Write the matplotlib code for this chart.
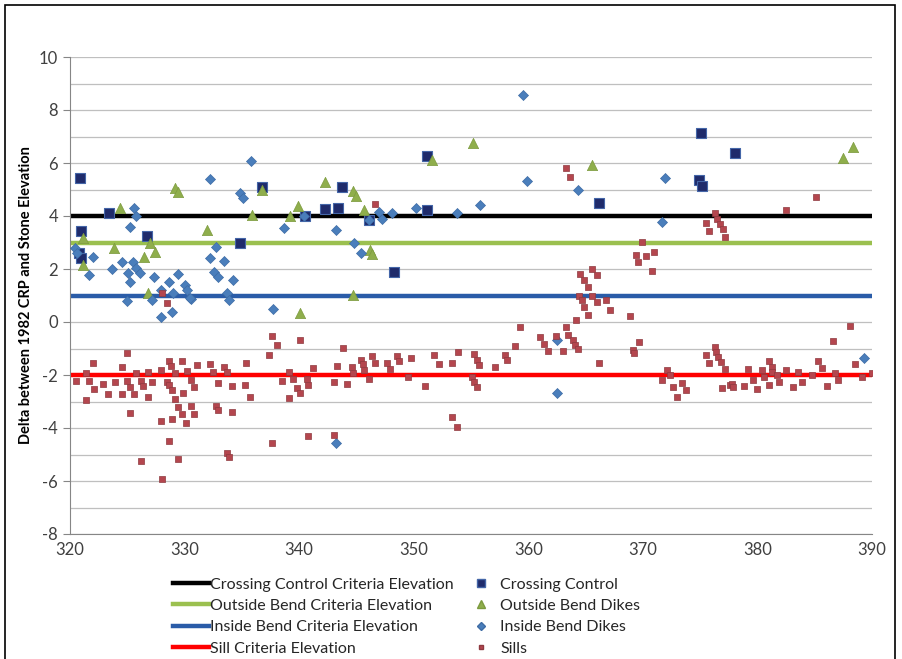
import matplotlib.pyplot as plt
from matplotlib.patches import Rectangle
from matplotlib.lines import Line2D
from matplotlib.ticker import MultipleLocator

plt.rcParams['font.family'] = ['Lato', 'DejaVu Sans']
plt.rcParams['axes.unicode_minus'] = False

# criteria elevations (horizontal lines)
crit_names = ['Crossing Control Criteria Elevation', 'Outside Bend Criteria Elevation',
              'Inside Bend Criteria Elevation', 'Sill Criteria Elevation']
crit_values = [4, 3, 1, -2]
crit_colors = ['#000000', '#9BC04F', '#2A5CA8', '#FF0000']
x_range = [320, 390]

# Crossing Control
cc_x = [320.9, 321.0, 320.8, 321.0, 323.4, 326.7, 334.8, 336.8, 340.5, 342.3, 343.4,
        343.7, 346.1, 348.3, 351.2, 351.2, 366.2, 375.1, 374.9, 375.2, 378.0]
cc_y = [5.43, 3.45, 2.6, 2.4, 4.1, 3.25, 3.0, 5.1, 4.0, 4.26, 4.3,
        5.1, 3.85, 1.89, 6.26, 4.23, 4.49, 7.13, 5.36, 5.13, 6.38]

# Outside Bend Dikes
ob_x = [321.1, 321.1, 323.8, 324.4, 326.5, 327.0, 327.4, 326.8, 329.2, 329.4, 332.0,
        335.9, 336.8, 339.2, 339.9, 340.1, 342.3, 344.7, 345.0, 345.7, 344.7, 346.2,
        346.4, 351.6, 355.2, 365.6, 387.5, 388.3]
ob_y = [3.17, 2.15, 2.8, 4.3, 2.45, 2.98, 2.64, 1.1, 5.05, 4.9, 3.47,
        4.04, 5.0, 4.0, 4.38, 0.34, 5.28, 4.95, 4.75, 4.23, 1.02, 2.7,
        2.55, 6.1, 6.75, 5.92, 6.2, 6.6]

# Inside Bend Dikes
ib_x = [325.6, 325.8, 325.2, 320.4, 320.6, 322.0, 321.7, 323.7, 324.5, 325.1, 325.5,
        325.8, 326.1, 325.2, 327.3, 328.6, 329.4, 330.0, 325.0, 327.2, 327.9, 327.9,
        328.9, 329.0, 330.6, 330.2, 335.8, 332.2, 334.8, 335.1, 340.4, 338.7, 343.2,
        332.7, 332.2, 333.4, 332.6, 332.9, 334.2, 330.5, 333.7, 333.9, 337.7, 343.2,
        359.5, 359.9, 355.8, 350.2, 353.8, 348.1, 347.0, 347.2, 346.1, 344.8, 345.4,
        364.3, 371.9, 371.7, 362.5, 362.5, 389.3]
ib_y = [4.3, 4.0, 3.58, 2.8, 2.6, 2.45, 1.77, 2.0, 2.26, 1.85, 2.26,
        2.04, 1.85, 1.5, 1.7, 1.5, 1.8, 1.4, 0.8, 0.83, 1.2, 0.2,
        0.38, 1.1, 0.87, 1.2, 6.07, 5.4, 4.87, 4.68, 4.0, 3.55, 3.47,
        2.83, 2.4, 2.3, 1.9, 1.7, 1.58, 0.9, 1.1, 0.83, 0.49, -4.57,
        8.56, 5.32, 4.42, 4.3, 4.1, 4.1, 4.15, 3.9, 3.85, 3.0, 2.6,
        4.98, 5.43, 3.77, -0.68, -2.68, -1.36]

# Sills
sill_x = [320.5, 321.4, 321.4, 321.7, 322.0, 322.1, 322.9, 323.3, 323.9, 324.5, 324.5,
          325.0, 325.0, 325.2, 325.2, 325.6, 325.8, 326.2, 326.4, 326.2, 326.8, 326.8,
          327.2, 327.9, 327.9, 328.0, 328.5, 328.6, 328.6, 328.8, 328.9, 328.9, 328.6,
          329.2, 329.2, 329.4, 329.4, 329.8, 329.8, 329.9, 330.2, 330.1, 330.6, 330.6,
          330.8, 330.8, 331.1, 332.2, 332.5, 332.7, 332.9, 332.9, 333.4, 333.7, 333.7,
          333.9, 334.1, 334.1, 335.4, 335.3, 335.7, 328.0, 328.5,
          337.6, 338.1, 337.4, 337.6, 338.5, 339.1, 339.5, 339.1, 339.8, 340.1, 340.1,
          340.7, 340.8, 340.8, 341.2, 343.0, 343.0, 343.3, 343.8, 344.2, 344.6, 344.7,
          345.4, 345.6, 345.7, 346.1, 346.4, 346.6, 347.7, 347.9, 348.5, 348.7, 349.5,
          349.8, 351.0, 351.8, 352.2, 353.3, 353.3, 353.8, 353.9, 355.3, 355.5, 355.7,
          355.1, 355.3, 355.5, 346.6, 359.3,
          357.1, 358.0, 358.1, 358.8, 361.0, 361.4, 361.7, 362.4, 363.0, 363.5, 363.9,
          364.1, 364.3, 366.2, 369.1, 369.2, 369.7, 371.7, 372.1, 372.4, 372.6, 373.0,
          373.4, 373.8, 375.5, 375.8, 376.3, 376.4, 376.6, 376.8, 377.2, 376.9, 377.6,
          363.3, 363.6, 376.3, 376.5, 375.5, 376.7, 375.8, 377.0, 377.2, 369.9, 369.4,
          370.3, 371.0, 369.6, 370.8, 364.5, 365.6, 366.0, 364.9, 365.2, 364.4, 365.6,
          364.7, 366.0, 366.8, 364.9, 367.1, 365.2, 368.9, 364.2, 363.3,
          377.8, 377.9, 378.8, 379.2, 379.6, 380.0, 380.4, 380.6, 381.0, 381.3, 381.3,
          381.0, 381.7, 381.9, 382.5, 383.1, 383.5, 383.9, 384.8, 385.3, 385.6, 386.1,
          386.8, 387.0, 386.6, 388.1, 388.5, 389.1, 390.0, 385.1, 382.5]
sill_y = [-2.23, -1.93, -2.94, -2.23, -1.55, -2.53, -2.34, -2.72, -2.26, -2.72, -1.7,
          -1.17, -2.23, -2.45, -3.43, -2.72, -1.93, -2.23, -2.42, -5.25, -2.83, -1.89,
          -2.26, -1.81, -3.74, -5.92, -2.26, -2.38, -1.47, -1.66, -2.57, -3.66, -4.49,
          -2.91, -1.93, -3.21, -5.17, -1.47, -3.47, -2.68, -1.85, -3.81, -2.19, -3.17,
          -3.47, -2.45, -1.62, -1.59, -1.89, -3.17, -3.32, -2.3, -1.7, -1.89, -4.94,
          -5.09, -2.42, -3.4, -1.55, -2.38, -2.83, 1.1, 0.7,
          -0.53, -0.87, -1.25, -4.57, -2.23, -1.89, -2.15, -2.87, -2.49, -2.68, -0.68,
          -2.15, -2.38, -4.3, -1.74, -2.26, -4.26, -1.66, -0.98, -2.34, -1.7, -1.93,
          -1.43, -1.58, -1.81, -2.15, -1.28, -1.55, -1.55, -1.77, -1.28, -1.47, -2.08,
          -1.36, -2.42, -1.25, -1.58, -1.55, -3.58, -3.96, -1.13, -1.21, -1.43, -1.62,
          -2.08, -2.26, -2.45, 4.45, -0.2,
          -1.7, -1.25, -1.43, -0.91, -0.57, -0.83, -1.09, -0.53, -1.09, -0.49, -0.68,
          -0.87, -1.02, -1.55, -1.06, -1.17, -0.75, -2.19, -1.81, -2.0, -2.45, -2.83,
          -2.3, -2.57, -1.25, -1.55, -0.94, -1.13, -1.32, -1.51, -1.77, -2.49, -2.38,
          5.81, 5.47, 4.11, 3.89, 3.74, 3.7, 3.43, 3.51, 3.2, 3.02, 2.53,
          2.49, 2.64, 2.26, 1.92, 1.81, 2.0, 1.77, 1.58, 1.32, 0.98, 0.98,
          0.83, 0.75, 0.83, 0.57, 0.45, 0.26, 0.23, 0.08, -0.19,
          -2.34, -2.45, -2.42, -1.77, -2.19, -2.53, -1.81, -2.08, -1.47, -1.7, -1.89,
          -2.38, -2.0, -2.26, -1.81, -2.45, -1.89, -2.26, -2.0, -1.47, -1.74, -2.42,
          -1.92, -2.19, -0.72, -0.15, -1.58, -2.08, -1.92, 4.72, 4.23]

fig = plt.figure(figsize=(9.02, 6.59), dpi=100)
ax = fig.add_axes([70 / 902, 1 - 534 / 659, 802 / 902, 477 / 659])

for name, val, col in zip(crit_names, crit_values, crit_colors):
    ax.plot(x_range, [val, val], color=col, lw=3.2, zorder=2, label=name)

ax.scatter(cc_x, cc_y, marker='s', s=50, c='#1F2B6B', edgecolors='#4466A8',
           linewidths=0.8, zorder=4)
ax.scatter(ob_x, ob_y, marker='^', s=55, c='#8FAE4C', edgecolors='#7C9A3E',
           linewidths=0.5, zorder=4)
ax.scatter(ib_x, ib_y, marker='D', s=26, c='#4A7EBB', edgecolors='#3E6CA5',
           linewidths=0.5, zorder=4)
ax.scatter(sill_x, sill_y, marker='s', s=22, c='#B4464E', edgecolors='#8E3A40',
           linewidths=0.5, zorder=4)

ax.set_xlim(320, 390)
ax.set_ylim(-8, 10)
ax.xaxis.set_major_locator(MultipleLocator(10))
ax.yaxis.set_major_locator(MultipleLocator(2))
ax.yaxis.set_minor_locator(MultipleLocator(1))
ax.grid(True, which='both', axis='y', color='#BFBFBF', lw=0.9, zorder=0)
ax.set_axisbelow(True)
for s in ['top', 'right']:
    ax.spines[s].set_visible(False)
for s in ['left', 'bottom']:
    ax.spines[s].set_color('#868686')
ax.tick_params(axis='both', which='major', labelsize=12, colors='#868686',
               labelcolor='#404040', length=5)
ax.tick_params(axis='y', which='minor', length=0)
ax.tick_params(axis='x', length=0, pad=6)
ax.set_ylabel('Delta between 1982 CRP and Stone Elevation', fontsize=10.5,
              fontweight='bold', labelpad=4)

handles = [Line2D([], [], color=c, lw=3.2) for c in crit_colors]
handles += [
    Line2D([], [], ls='none', marker='s', ms=6, mfc='#1F2B6B', mec='#4466A8'),
    Line2D([], [], ls='none', marker='^', ms=6, mfc='#8FAE4C', mec='#7C9A3E'),
    Line2D([], [], ls='none', marker='D', ms=4, mfc='#4A7EBB', mec='#3E6CA5'),
    Line2D([], [], ls='none', marker='s', ms=3.5, mfc='#B4464E', mec='#8E3A40'),
]
labels = crit_names + ['Crossing Control', 'Outside Bend Dikes', 'Inside Bend Dikes', 'Sills']
fig.legend(handles, labels, ncol=2, loc='upper left', bbox_to_anchor=(159 / 902, 1 - 563 / 659),
           frameon=False, fontsize=11.5, handlelength=2.2, handletextpad=0.1,
           labelspacing=0.45, columnspacing=0.6, labelcolor='#262626')

fig.add_artist(Rectangle((5 / 902, -0.05), 890 / 902, 1.05 - 5 / 659, transform=fig.transFigure,
                         fill=False, ec='#000000', lw=1.2))

fig.savefig('out.png', dpi=100)
